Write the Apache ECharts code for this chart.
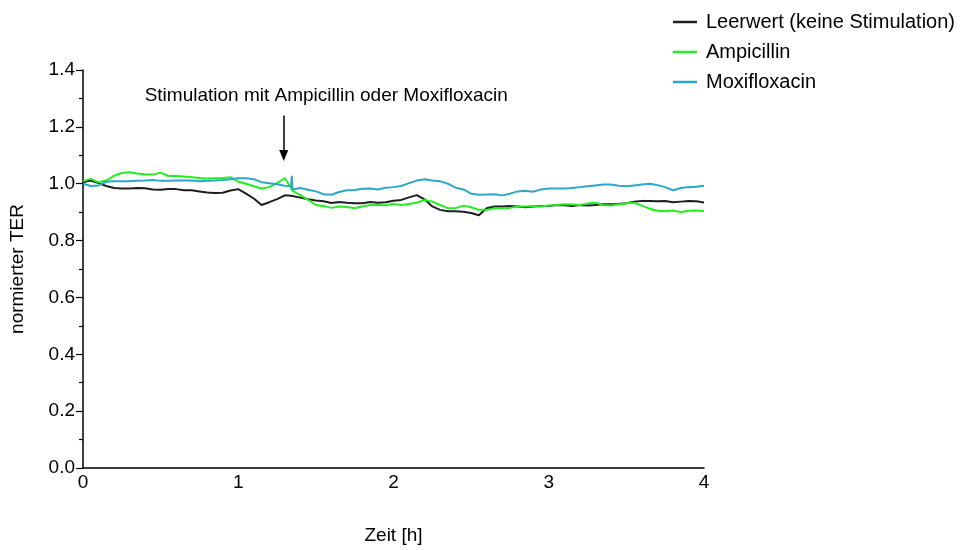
<!DOCTYPE html>
<html>
<head>
<meta charset="utf-8">
<script src="https://cdn.jsdelivr.net/npm/echarts@6/dist/echarts.min.js"></script>
<style>
html,body{margin:0;padding:0;background:#fff;}
#chart{width:964px;height:550px;}
</style>
</head>
<body>
<div id="chart"></div>
<script>
// Time points [h]
const times = [0,0.05,0.1,0.15,0.2,0.25,0.3,0.35,0.4,0.45,0.5,0.55,0.6,0.65,0.7,0.75,0.8,0.85,0.9,0.95,1.0,1.05,1.1,1.15,1.2,1.25,1.3,1.34,1.345,1.35,1.4,1.45,1.5,1.55,1.6,1.65,1.7,1.75,1.8,1.85,1.9,1.95,2.0,2.05,2.1,2.15,2.2,2.25,2.3,2.35,2.4,2.45,2.5,2.55,2.6,2.65,2.7,2.75,2.8,2.85,2.9,2.95,3.0,3.05,3.1,3.15,3.2,3.25,3.3,3.35,3.4,3.45,3.5,3.55,3.6,3.65,3.7,3.75,3.8,3.85,3.9,3.95,4.0];

// Leerwert (keine Stimulation)
const leerwert = [1.005,1.011,1.002,0.992,0.985,0.983,0.983,0.985,0.984,0.980,0.979,0.981,0.981,0.977,0.977,0.973,0.969,0.967,0.968,0.976,0.981,0.965,0.948,0.925,0.935,0.946,0.959,0.958,0.957,0.957,0.951,0.945,0.941,0.938,0.932,0.936,0.933,0.931,0.931,0.936,0.933,0.935,0.940,0.943,0.952,0.960,0.945,0.920,0.908,0.903,0.903,0.901,0.897,0.889,0.914,0.920,0.920,0.922,0.920,0.917,0.920,0.922,0.922,0.925,0.924,0.922,0.925,0.923,0.925,0.928,0.928,0.929,0.931,0.937,0.939,0.939,0.938,0.939,0.935,0.937,0.939,0.938,0.934];

// Ampicillin
const ampicillin = [1.009,1.017,1.005,1.011,1.028,1.038,1.040,1.036,1.033,1.032,1.039,1.027,1.027,1.025,1.023,1.020,1.018,1.019,1.020,1.023,1.007,1.000,0.991,0.983,0.988,1.002,1.020,0.985,0.981,0.975,0.960,0.943,0.925,0.922,0.915,0.920,0.918,0.914,0.920,0.925,0.925,0.924,0.929,0.925,0.929,0.933,0.943,0.937,0.925,0.914,0.914,0.923,0.917,0.908,0.908,0.914,0.914,0.915,0.920,0.920,0.922,0.920,0.923,0.925,0.928,0.927,0.925,0.930,0.933,0.925,0.923,0.927,0.931,0.933,0.923,0.912,0.905,0.903,0.906,0.900,0.905,0.906,0.903];

// Moxifloxacin
const moxifloxacin = [1.000,0.992,0.994,1.007,1.009,1.009,1.009,1.010,1.011,1.013,1.010,1.010,1.011,1.011,1.011,1.009,1.010,1.011,1.013,1.016,1.019,1.019,1.016,1.005,1.002,0.998,0.993,0.992,1.028,0.980,0.985,0.979,0.973,0.963,0.961,0.971,0.977,0.978,0.982,0.983,0.980,0.986,0.988,0.992,1.002,1.011,1.016,1.011,1.009,1.000,0.986,0.980,0.965,0.961,0.962,0.963,0.959,0.965,0.973,0.975,0.972,0.980,0.983,0.983,0.983,0.985,0.988,0.991,0.994,0.997,0.997,0.993,0.991,0.994,0.997,1.000,0.995,0.988,0.977,0.985,0.988,0.989,0.993];

const seriesNames = ['Leerwert (keine Stimulation)', 'Ampicillin', 'Moxifloxacin'];
const seriesColors = ['#1e1e1e', '#22ee22', '#2ba7c7'];
const yTicks = [0, 0.2, 0.4, 0.6, 0.8, 1.0, 1.2, 1.4];
const xTicks = [0, 1, 2, 3, 4];
const annotationText = 'Stimulation mit Ampicillin oder Moxifloxacin';
const stimTime = 1.293;

const FONT = '"Liberation Sans", Arial, sans-serif';
const FS = 19;

function pairs(vals) { return times.map((t, i) => [t, vals[i]]); }
const allValues = [leerwert, ampicillin, moxifloxacin];

const series = allValues.map((vals, i) => ({
  name: seriesNames[i],
  type: 'line',
  data: pairs(vals),
  symbol: 'none',
  lineStyle: { color: seriesColors[i], width: 2 },
  itemStyle: { color: seriesColors[i] },
  z: 2 + i
}));

// arrow + annotation text anchored in data coordinates
series.push({
  name: 'annotation',
  type: 'line',
  data: [],
  silent: true,
  markLine: {
    silent: true,
    symbol: ['none', 'none'],
    lineStyle: { color: '#000', width: 1.5, type: 'solid' },
    label: { show: false },
    data: [[{ coord: [stimTime, 1.24] }, { coord: [stimTime, 1.095] }]]
  },
  markPoint: {
    silent: true,
    data: [
      {
        coord: [0.397, 1.311],
        symbol: 'circle',
        symbolSize: 0,
        label: {
          show: true,
          position: 'inside',
          align: 'left',
          formatter: annotationText,
          color: '#000',
          fontFamily: FONT,
          fontSize: FS
        }
      },
      {
        coord: [stimTime, 1.099],
        symbol: 'path://M0,0L10,0L5,12Z',
        symbolSize: [9, 11],
        itemStyle: { color: '#000' },
        label: { show: false }
      }
    ]
  }
});

const chart = echarts.init(document.getElementById('chart'), null, { renderer: 'canvas' });
chart.setOption({
  animation: false,
  backgroundColor: '#fff',
  grid: { left: 80, right: 260, top: 70, bottom: 72, containLabel: false },
  legend: {
    data: seriesNames,
    orient: 'vertical',
    left: 668,
    top: 7,
    itemWidth: 24,
    itemHeight: 2.5,
    itemGap: 10,
    icon: 'rect',
    textStyle: { color: '#000', fontFamily: FONT, fontSize: 20, padding: [0, 0, 0, 4] },
    selectedMode: false
  },
  xAxis: {
    type: 'value',
    min: 0,
    max: 4,
    interval: 1,
    name: 'Zeit [h]',
    nameLocation: 'middle',
    nameGap: 58,
    nameTextStyle: { color: '#000', fontFamily: FONT, fontSize: FS },
    axisLine: { lineStyle: { color: '#000', width: 1.5 } },
    axisTick: { show: false },
    splitLine: { show: false },
    axisLabel: {
      color: '#000', fontFamily: FONT, fontSize: FS, margin: 5,
      customValues: xTicks
    }
  },
  yAxis: {
    type: 'value',
    min: 0,
    max: 1.4,
    interval: 0.2,
    name: 'normierter TER',
    nameLocation: 'middle',
    nameGap: 56,
    nameTextStyle: { color: '#000', fontFamily: FONT, fontSize: FS },
    axisLine: { show: true, lineStyle: { color: '#000', width: 1.5 } },
    axisTick: { show: true, inside: false, length: 7, lineStyle: { color: '#000', width: 1.2 } },
    minorTick: { show: true, splitNumber: 2, length: 4, lineStyle: { color: '#000', width: 1.2 } },
    splitLine: { show: false },
    minorSplitLine: { show: false },
    axisLabel: {
      color: '#000', fontFamily: FONT, fontSize: FS, margin: 8,
      formatter: v => v.toFixed(1)
    }
  },
  series: series
});
</script>
</body>
</html>
